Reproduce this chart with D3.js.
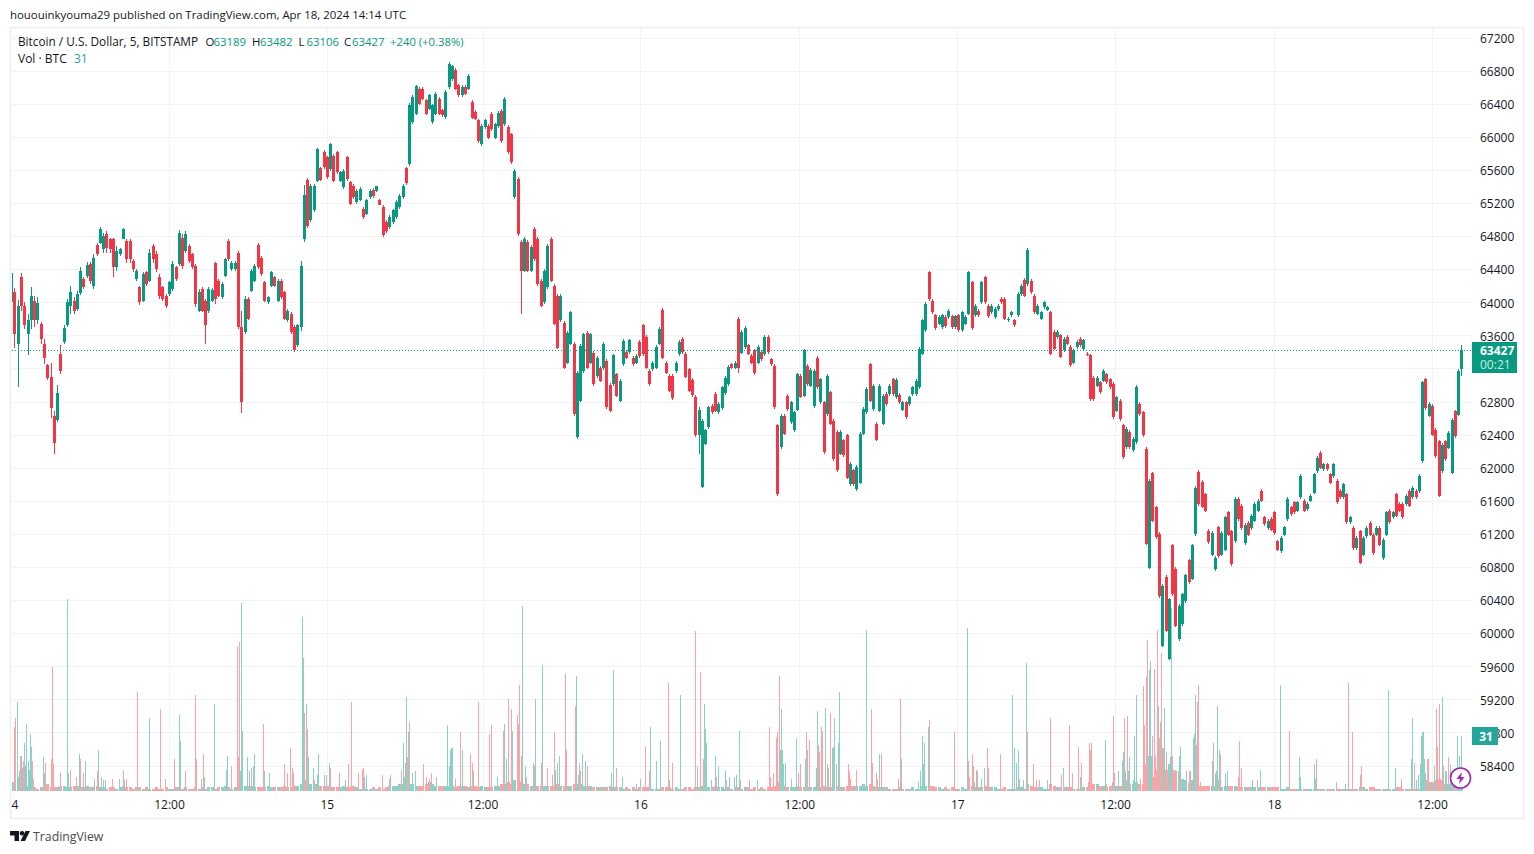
<!DOCTYPE html>
<html>
<head>
<meta charset="utf-8">
<title>BTCUSD 5m</title>
<script src="https://d3js.org/d3.v7.min.js"></script>
<style>
  html, body { margin: 0; padding: 0; background: #fff; }
  svg { display: block; }
  text { font-family: "Open Sans", Roboto, sans-serif; fill: #131722; }
</style>
</head>
<body>
<div id="chart"></div>
<script>
// prices, one reading per 15 minutes starting Apr 14 00:00 UTC
const opens = [
64000,64120,63500,64300,63950,63620,63780,64020,63790,63740,
63500,63240,63100,62620,62580,63380,63520,63720,63950,64020,
63920,64110,64280,64320,64460,64200,64690,64720,64640,64830,
64760,64760,64420,64580,64770,64740,64740,64500,64280,64180,
64020,64360,64260,64680,64580,64300,64180,64080,64100,64160,
64420,64460,64780,64620,64680,64580,64440,63900,64160,64020,
63900,64020,64470,64260,64060,64320,64740,64400,64400,64600,
63700,63640,64040,64140,64260,64690,64540,64240,64000,64200,
64300,64020,64260,64120,63780,63860,63700,63480,63700,64760,
65480,64990,65110,65470,65620,65820,65750,65610,65770,65810,
65470,65390,65750,65450,65410,65210,65240,65130,65070,65270,
65360,65340,65240,65150,64970,64910,64970,65030,65150,65270,
65620,65670,66180,66280,66580,66580,66440,66340,66180,66280,
66460,66320,66240,66600,66700,66810,66620,66500,66600,66580,
66420,66300,66200,65910,66120,66130,66280,65990,66130,66310,
66150,66120,66030,65270,65490,64730,64380,64730,64380,64890,
64770,64260,64000,64180,64770,64200,64080,63780,63750,63270,
63500,63500,62370,62810,63170,63630,63270,63390,63110,63210,
63200,63290,63000,63010,63130,62810,63250,63400,63400,63330,
63270,63520,63720,63580,63170,63190,63210,63500,63910,63270,
63110,63110,63170,63370,63560,63380,63190,63060,62860,62400,
61770,62290,62490,62750,62890,62670,62720,62900,63010,63250,
63210,63800,63390,63460,63480,63350,63420,63270,63400,63370,
63580,63310,63230,62510,62250,62630,62870,62550,62450,62700,
63110,62870,63230,62990,62740,63330,62790,62790,62650,62910,
62570,62430,62170,62330,62390,61800,61970,61740,61820,62410,
62670,63250,62710,62530,62690,62530,62890,62890,63070,62850,
62880,62700,62790,62770,62890,62890,62970,63380,63660,64360,
64020,63840,63740,63700,63820,63820,63830,63700,63840,63660,
63740,63860,64240,63840,63900,64000,64300,63960,63880,63820,
63920,64040,64040,63780,63840,63780,63840,64100,64270,64220,
64260,64080,63860,63800,63940,63910,63880,63640,63580,63600,
63420,63580,63460,63270,63460,63560,63440,63380,63360,63090,
62990,63030,63050,63130,63070,63010,62690,62810,62510,62250,
62430,62210,62310,62770,62670,62230,60790,61930,61520,61200,
59850,60680,59690,61060,60780,59930,60110,60390,60880,60660,
61200,61950,61830,61680,61240,60950,60770,61280,60950,61010,
61460,61230,61110,61620,61540,61090,61330,61270,61360,61480,
61720,61400,61270,61380,61460,61110,60990,61190,61380,61520,
61580,61480,61640,61600,61500,61600,61700,61960,62180,61980,
62040,61920,61900,61840,61720,61640,61680,61340,61270,61030,
61230,60950,61170,61330,61190,61190,61270,60910,61190,61480,
61400,61680,61560,61560,61560,61720,61640,61720,61720,62080,
63070,62630,62750,62460,62320,61960,62320,62240,61940,62680,
62640,63189];
const highs = [
64440,64170,64030,64350,64000,63860,64180,64070,64060,63760,
63560,63250,63270,62680,63000,63480,63730,64040,64200,64060,
64140,64420,64300,64490,64490,64580,64710,64910,64840,64860,
64780,64780,64680,64660,64900,64760,64760,64520,64400,64200,
64370,64380,64640,64700,64620,64340,64200,64100,64260,64500,
64440,64870,64820,64860,64700,64600,64460,64160,64180,64040,
64180,64170,64490,64280,64240,64540,64760,64500,64500,64620,
63900,64070,64060,64400,64460,64710,64560,64260,64080,64380,
64320,64280,64280,64140,63920,63880,63720,63740,64500,65420,
65500,65430,65430,65870,65640,65840,65770,65930,65790,65830,
65590,65610,65770,65470,65430,65370,65390,65150,65250,65370,
65380,65410,65250,65170,64990,65050,65130,65230,65310,65430,
65640,66410,66500,66630,66600,66600,66460,66520,66400,66540,
66480,66340,66560,66900,66870,66830,66640,66620,66620,66760,
66440,66320,66220,66150,66220,66150,66300,66170,66310,66330,
66480,66140,66050,65610,65510,64750,64790,64750,64690,64910,
64790,64280,64400,64700,64790,64220,64100,64100,63770,63650,
63900,63520,63170,63490,63630,63650,63630,63410,63350,63230,
63520,63310,63020,63380,63150,63070,63550,63420,63560,63350,
63370,63540,63740,63600,63190,63290,63480,63700,63930,63290,
63130,63130,63290,63540,63580,63400,63210,63080,62880,62730,
62590,62470,62750,62770,62910,62790,62990,63110,63240,63270,
63290,63820,63660,63710,63500,63370,63440,63480,63420,63600,
63600,63330,63250,62530,62650,62650,62890,62810,62690,63150,
63130,63440,63250,63200,63190,63350,63090,62810,63130,62930,
62590,62450,62450,62350,62410,62070,61990,62030,62430,62730,
62970,63270,63010,62550,63010,62890,62910,63010,63090,63080,
62900,62810,62810,62870,62990,63070,63460,63800,64000,64380,
64040,63860,63840,63860,63840,63920,63850,63850,63860,63900,
63840,64380,64260,63980,63920,64260,64320,63980,63980,63940,
63980,64060,64060,63820,63900,63800,64120,64220,64290,64650,
64280,64100,63980,63900,64020,63960,63900,63660,63660,63620,
63580,63600,63480,63440,63540,63580,63560,63400,63380,63110,
63110,63050,63190,63150,63090,63030,62870,62830,62530,62490,
62450,62370,63000,62790,62690,62250,61860,61950,61540,61220,
60590,60700,60430,61080,60800,60350,60490,60720,60900,61080,
61780,61970,61850,61700,61260,61230,60930,61300,61230,61420,
61480,61250,61640,61640,61560,61330,61350,61440,61580,61620,
61740,61420,61380,61400,61480,61130,61170,61300,61640,61540,
61600,61600,61920,61620,61580,61680,61940,62140,62200,62060,
62060,61940,62060,61860,61740,61820,61700,61420,61290,61170,
61250,61170,61290,61350,61210,61290,61290,61150,61480,61500,
61480,61700,61580,61580,61680,61740,61780,61740,61920,63050,
63090,62790,62770,62480,62340,62300,62340,62440,62600,62700,
63190,63482];
const lows = [
63880,63450,62980,63900,63680,63360,63680,63700,63740,63500,
63250,63060,62600,62170,62550,63130,63500,63700,63860,63860,
63900,64090,64160,64290,64220,64160,64560,64700,64600,64600,
64600,64300,64380,64560,64760,64480,64480,64360,64260,63970,
64000,64200,64240,64480,64360,64040,64020,63930,64080,64140,
64260,64440,64400,64600,64480,64400,63940,63880,63880,63500,
63870,64000,63980,64060,64040,64300,64500,64380,64380,63680,
62660,63620,63780,64120,64240,64400,64320,64000,63980,64180,
64180,64000,64040,63780,63760,63620,63400,63460,63650,64730,
64900,64970,65090,65450,65460,65610,65490,65590,65450,65550,
65450,65370,65470,65170,65250,65190,65220,65010,65050,65250,
65260,65330,65170,64790,64840,64890,64950,65010,65130,65250,
65420,65650,66160,66260,66380,66440,66260,66320,66160,66260,
66260,66240,66220,66580,66680,66560,66480,66480,66500,66560,
66210,66200,65930,65890,66100,65970,66070,65970,66110,65930,
66130,65790,65670,65250,64800,63860,64360,64360,64360,64500,
64200,63940,63980,64160,64240,63720,63430,63760,63190,63250,
63480,62630,62350,62790,63150,63190,63250,62990,63090,63030,
63180,62710,62670,62990,62850,62790,63230,63310,63380,63230,
63250,63330,63350,63190,62990,63170,63190,63480,63310,63130,
62910,62820,63150,63350,63380,63080,62910,62860,62370,62160,
61750,62270,62470,62650,62670,62650,62700,62880,62990,63190,
63190,63150,63370,63440,63360,63250,63120,63250,63290,63350,
63380,63230,62710,61660,62230,62390,62690,62530,62430,62680,
62840,62850,62990,62970,62720,62950,62770,62170,62630,62510,
62080,61950,62150,62130,61860,61780,61780,61720,61800,62390,
62650,62790,62690,62320,62670,62510,62750,62870,62870,62830,
62770,62680,62590,62750,62870,62870,62950,63360,63640,64020,
63860,63670,63720,63680,63690,63800,63680,63680,63640,63640,
63720,63840,63670,63820,63820,63980,63980,63810,63860,63800,
63900,63980,63780,63760,63820,63700,63820,64080,64060,64200,
64100,63860,63840,63780,63920,63890,63360,63420,63560,63320,
63400,63480,63220,63250,63440,63460,63420,63350,62810,62810,
62970,62890,63030,63010,62950,62590,62670,62570,62110,62230,
62230,62190,62290,62630,62370,61060,60770,61340,61140,60430,
59830,60010,59670,60450,60070,59910,60090,60370,60600,60640,
61180,61540,61510,61460,61080,60930,60750,60910,60930,60990,
61170,60810,61090,61360,61250,61070,61170,61250,61340,61460,
61580,61300,61250,61230,61190,60990,60970,61170,61360,61420,
61440,61460,61620,61460,61480,61580,61680,61940,61980,61960,
61960,61800,61880,61560,61620,61620,61320,61320,61010,61010,
60830,60930,61150,61170,60950,61170,61050,60890,61170,61320,
61380,61400,61460,61380,61540,61520,61620,61620,61700,62060,
62700,62610,62380,62120,61640,61940,62080,62220,61920,62360,
62620,63106];
const closes = [
64350,63620,63950,63950,63720,63780,64080,63780,63990,63560,
63320,63090,62720,62300,62900,63170,63690,64000,64120,63900,
64100,64380,64180,64450,64260,64540,64580,64880,64800,64660,
64640,64420,64620,64640,64880,64520,64520,64400,64380,64000,
64340,64220,64600,64520,64400,64080,64040,63960,64240,64460,
64280,64840,64440,64820,64500,64420,63980,64120,63900,63720,
64160,64150,64040,64080,64220,64520,64520,64480,64480,63700,
62800,64040,63800,64380,64440,64420,64340,64020,64060,64360,
64200,64260,64060,63800,63900,63640,63420,63720,64440,65300,
64920,65400,65400,65850,65480,65630,65510,65910,65470,65570,
65570,65590,65490,65190,65270,65350,65370,65030,65230,65350,
65280,65400,65180,64810,64860,65030,65110,65210,65290,65410,
65440,66390,66480,66610,66400,66460,66280,66500,66380,66520,
66280,66260,66540,66880,66850,66580,66500,66600,66520,66740,
66230,66220,65950,66130,66200,65990,66090,66150,66290,65950,
66460,65810,65690,65590,64820,64380,64770,64380,64670,64520,
64220,63960,64380,64680,64260,63740,63450,64080,63210,63630,
63880,62650,63150,63470,63610,63210,63610,63010,63330,63050,
63500,62730,62690,63360,62870,63050,63530,63330,63540,63250,
63350,63350,63370,63210,63010,63270,63460,63680,63330,63150,
62930,62840,63270,63520,63400,63100,62930,62880,62390,62700,
62570,62450,62730,62670,62690,62770,62970,63090,63220,63210,
63270,63200,63640,63690,63380,63270,63140,63460,63310,63580,
63400,63250,62730,61680,62630,62410,62710,62790,62670,63130,
62860,63420,63010,63180,63170,62970,63070,62190,63110,62530,
62100,61970,62430,62150,61880,62050,61800,62010,62410,62710,
62950,62810,62990,62340,62990,62870,62770,62990,62890,63060,
62790,62790,62610,62850,62970,63050,63440,63780,63980,64040,
63880,63690,63820,63840,63710,63900,63700,63830,63660,63880,
63820,64360,63690,63960,63840,64240,64000,63830,63960,63920,
63960,64000,63800,63800,63880,63720,64100,64200,64080,64630,
64120,63880,63960,63880,64000,63940,63380,63440,63640,63340,
63560,63500,63240,63420,63520,63480,63540,63360,62830,62830,
63090,62910,63170,63030,62970,62610,62850,62590,62130,62470,
62250,62350,62980,62650,62390,61080,61840,61360,61160,60450,
60570,60030,60410,60470,60090,60330,60470,60700,60620,61060,
61760,61560,61530,61480,61100,61210,60910,60930,61210,61400,
61190,60830,61620,61380,61270,61310,61190,61420,61560,61600,
61600,61320,61360,61250,61210,61010,61150,61280,61620,61440,
61460,61580,61900,61480,61560,61660,61920,62120,62000,62040,
61980,61820,62040,61580,61640,61800,61340,61400,61030,61150,
60850,61150,61270,61190,60970,61270,61070,61130,61460,61340,
61460,61420,61480,61400,61660,61540,61760,61640,61900,63030,
62720,62770,62400,62140,61660,62280,62100,62420,62580,62380,
63170,63427];

// quiet background volume in BTC at the same 15 minute steps
const baseVolume = [
5,4,6,5,3,3,2,2,1,2, 3,4,2,2,2,3,3,2,2,3, 3,2,2,3,2,2,3,2,2,1, 2,2,1,2,3,2,2,1,2,2,
1,2,1,1,2,1,1,2,1,1, 2,2,1,2,1,1,2,1,2,1, 2,2,1,2,2,3,2,1,2,3, 5,3,3,3,2,2,2,2,3,2,
2,2,2,3,2,2,3,3,4,6, 5,4,4,4,3,3,3,2,2,2, 2,3,2,2,3,2,1,2,1,1, 2,1,2,1,2,3,3,3,4,4,
4,4,4,3,3,3,4,5,4,3, 3,3,3,3,3,2,3,3,3,2, 3,3,2,3,2,2,2,3,3,4, 4,5,4,6,6,5,4,4,3,4,
3,3,3,3,3,3,4,3,3,3, 3,4,4,4,3,3,3,2,2,2, 2,2,3,2,2,2,1,2,1,2, 1,2,2,2,2,1,1,1,2,2,
2,1,2,1,1,2,2,1,2,2, 3,3,2,2,3,2,2,1,2,1, 2,2,1,2,2,1,2,1,2,1, 2,2,3,5,4,3,2,2,2,3,
2,2,2,2,2,1,2,3,2,2, 3,3,2,2,3,3,3,3,3,4, 3,4,3,2,2,2,2,1,1,1, 2,1,1,1,2,1,1,3,3,3,
3,2,2,1,2,1,2,1,1,2, 1,3,3,2,2,2,3,2,2,2, 1,1,2,1,1,1,2,2,1,4, 3,2,2,2,1,1,4,3,2,2,
2,2,2,1,1,1,2,2,5,4, 4,3,3,2,3,4,3,3,5,4, 4,4,5,4,4,7,9,8,9,12, 13,12,15,12,11,8,7,6,5,6,
5,3,3,3,3,3,3,2,2,3, 3,3,3,2,2,2,2,2,2,2, 2,2,2,2,2,2,1,1,2,1, 1,1,1,1,1,1,1,1,1,1,
1,1,1,1,1,1,1,1,1,1, 2,2,1,2,2,1,1,1,1,1, 1,2,2,1,1,1,1,1,1,3, 6,5,5,5,7,4,4,4,6,5,
6,2];

// volume spikes: 5 minute bar number since Apr 14 00:00, and BTC
const upBars = [2,5,6,7,9,12,13,14,15,16,17,18,20,29,30,51,52,62,67,76,79,84,86,98,103,126,153,154,173,176,185,196,197,209,210,211,215,217,221,222,231,235,265,266,269,271,275,279,280,285,290,305,322,324,345,357,358,359,360,362,366,368,388,398,399,400,401,402,411,421,443,450,451,
457,466,469,477,478,484,496,498,500,515,517,521,523,547,549,557,570,574,583,588,592,600,610,626,632,633,634,638,642,645,651,655,659,661,664,680,701,702,703,704,706,711,716,724,726,734,735,742,745,749,750,751,754,755,780,792,812,827,829,831,832,833,836,872,878,880,885,887,913,915,917,918,923,
926,945,959,975,998,1004,1010,1013,1014,1016,1017,1019,1020,1023,1024,1026,1027,1037,1038,1039,1040,1046,1050,1052,1055,1057,1058,1064,1065,1066,1072,1078,1079,1080,1095,1098,1099,1100,1102,1107,1109,1132,1139,1157,1175,1176,1188,1189,1217,1256,1262,1277,1278,1281,1283,1285,1286,1287,1288,1289,1290,1298,1299,1305,1308,1309,1312,1319,1321,1322];
const upVols = [5,50,8,11,20,27,14,38,17,12,32,25,7,19,10,108,10,21,17,7,23,6,6,7,6,41,43,28,7,8,49,12,20,11,106,34,19,11,14,21,11,10,98,75,49,19,13,9,21,9,16,6,8,9,7,27,8,16,53,33,10,11,8,37,14,23,24,24,23,11,8,38,18,
34,104,14,14,52,71,12,16,20,65,9,21,17,10,68,8,4,7,36,17,28,6,54,14,49,35,27,6,20,14,11,8,8,9,34,6,23,46,23,15,16,7,30,18,23,13,45,47,13,24,25,41,27,56,91,21,18,5,11,31,15,27,36,92,5,12,7,13,54,24,16,23,6,
72,6,13,8,29,5,11,17,22,11,6,11,19,6,31,54,4,20,68,73,20,48,24,47,12,19,103,11,20,25,11,30,32,54,17,10,11,48,23,10,11,6,12,60,19,8,15,7,4,57,13,18,41,6,9,15,31,33,33,18,10,14,6,53,11,11,15,31,20,31];
const downBars = [3,4,8,10,11,19,31,36,37,38,45,54,59,63,66,78,82,92,102,105,115,136,140,149,159,168,169,175,201,206,207,208,219,230,249,252,254,256,257,267,268,270,276,287,291,299,307,310,316,320,321,338,346,356,361,363,376,378,381,383,405,409,419,420,426,436,438,449,453,
456,461,462,463,465,470,476,483,489,493,495,505,506,514,518,519,525,552,578,582,599,603,624,628,631,643,652,665,673,691,692,695,698,699,700,718,720,725,728,736,737,739,740,744,747,752,763,764,765,771,784,785,789,790,793,809,811,837,860,873,874,876,877,881,890,891,902,919,
927,932,935,938,948,958,965,968,973,976,982,983,984,985,991,999,1005,1006,1015,1018,1030,1032,1033,1034,1035,1036,1041,1042,1043,1044,1045,1047,1048,1049,1051,1053,1056,1059,1062,1067,1074,1075,1081,1082,1083,1084,1092,1096,1101,1103,1119,1120,1122,1136,1166,1190,1208,1219,1223,1230,1231,1268,1280,1291,1292,1300,1301,1302,1304,1306,1311];
const downVols = [36,41,20,13,17,17,16,18,70,15,10,12,8,18,10,11,8,7,12,7,56,46,7,18,11,54,18,21,14,81,19,84,13,38,15,10,24,13,10,44,5,35,6,9,13,10,15,50,10,12,13,9,9,12,19,39,15,8,7,10,7,33,21,16,50,32,37,34,52,
46,43,38,60,20,8,16,16,13,9,33,66,23,48,16,11,14,13,25,11,61,16,90,67,18,8,6,6,6,36,8,10,30,33,65,10,15,33,29,26,22,36,34,15,44,15,15,11,7,12,46,16,10,7,21,7,52,40,33,17,8,21,14,11,24,13,21,7,
33,15,6,6,41,9,37,10,25,16,5,27,23,27,3,4,42,10,41,42,7,59,37,15,64,85,31,69,20,12,91,30,39,78,24,22,7,20,12,6,11,11,26,50,60,5,3,27,7,21,8,28,13,6,34,18,5,61,33,9,14,7,16,18,18,46,25,49,6,14,19];

const priceTicks = [58400,58800,59200,59600,60000,60400,60800,61200,61600,62000,62400,62800,63200,63600,64000,64400,64800,65200,65600,66000,66400,66800,67200];
// the feed has a few missing bars, so the labels are not evenly spaced in time
const timeTickBars = [0,144,288,430,574,719,863,1007,1152,1296];
const timeLabels = ["14","12:00","15","12:00","16","12:00","17","12:00","18","12:00"];

const lastPrice = 63427;
const lastVolume = 31;
const lastBar = 1322;

const upColor = "#089981", downColor = "#f23645";
const upVolColor = "#8dd0c6", downVolColor = "#f9a4a8";
const gridColor = "#f2f3f7", frameColor = "#eff1f6";

const start = new Date("2024-04-14T00:00Z");
const barTime = bar => new Date(+start + bar * 300000);
const candleBar = i => Math.min(i * 3, lastBar);

const width = 1534, height = 854;
const plotLeft = 12, plotRight = 1472, plotTop = 29, plotBottom = 792;

const x = d3.scaleUtc()
  .domain([start, barTime(1296)])
  .range([11.1, 1432]);
const y = d3.scaleLinear().domain([58400, 67200]).range([765.5, 37.5]);
const yVol = d3.scaleLinear().domain([0, 108]).range([791, 599.4]);

const svg = d3.select("#chart").append("svg")
  .attr("width", width)
  .attr("height", height);

const defs = svg.append("defs");
defs.append("clipPath").attr("id", "plotClip")
  .append("rect")
  .attr("x", plotLeft).attr("y", plotTop)
  .attr("width", plotRight - plotLeft).attr("height", plotBottom - plotTop);
defs.append("clipPath").attr("id", "timeClip")
  .append("rect")
  .attr("x", 10.8).attr("y", plotBottom)
  .attr("width", plotRight - 10).attr("height", 26);

// outer frame
svg.append("rect")
  .attr("x", 10.5).attr("y", 27.5)
  .attr("width", 1513).attr("height", 791)
  .attr("fill", "none")
  .attr("stroke", frameColor)
  .attr("stroke-width", 2);

// grid
const grid = svg.append("g").attr("clip-path", "url(#plotClip)").attr("shape-rendering", "crispEdges");
grid.selectAll(".h").data(priceTicks).join("line")
  .attr("x1", plotLeft).attr("x2", plotRight)
  .attr("y1", d => Math.round(y(d)) + 0.5).attr("y2", d => Math.round(y(d)) + 0.5)
  .attr("stroke", gridColor);
grid.selectAll(".v").data(timeTickBars).join("line")
  .attr("y1", plotTop).attr("y2", plotBottom)
  .attr("x1", d => Math.round(x(barTime(d))) + 0.5).attr("x2", d => Math.round(x(barTime(d))) + 0.5)
  .attr("stroke", gridColor);

// volume
const vol = svg.append("g").attr("clip-path", "url(#plotClip)").attr("shape-rendering", "crispEdges");
vol.selectAll(".base").data(baseVolume).join("rect")
  .attr("x", (d, i) => Math.round(x(barTime(candleBar(i)))) - 1)
  .attr("width", 3)
  .attr("y", d => yVol(d))
  .attr("height", d => yVol(0) - yVol(d))
  .attr("fill", (d, i) => closes[i] >= opens[i] ? upVolColor : downVolColor);
const spikes = (bars, vols, color) => vol.append("g").selectAll("rect").data(bars).join("rect")
  .attr("x", d => Math.round(x(barTime(d))))
  .attr("width", 1)
  .attr("y", (d, i) => yVol(vols[i]))
  .attr("height", (d, i) => yVol(0) - yVol(vols[i]))
  .attr("fill", color);
spikes(downBars, downVols, downVolColor);
spikes(upBars, upVols, upVolColor);

// candles
const candles = svg.append("g").attr("clip-path", "url(#plotClip)").attr("shape-rendering", "crispEdges");
const candleColor = i => closes[i] >= opens[i] ? upColor : downColor;
candles.selectAll(".wick").data(opens).join("rect")
  .attr("x", (d, i) => Math.round(x(barTime(candleBar(i)))))
  .attr("width", 1)
  .attr("y", (d, i) => y(highs[i]))
  .attr("height", (d, i) => y(lows[i]) - y(highs[i]))
  .attr("fill", (d, i) => candleColor(i));
candles.selectAll(".body").data(opens).join("rect")
  .attr("x", (d, i) => Math.round(x(barTime(candleBar(i)))) - 1)
  .attr("width", 3)
  .attr("y", (d, i) => y(Math.max(d, closes[i])))
  .attr("height", (d, i) => Math.max(1, Math.abs(y(d) - y(closes[i]))))
  .attr("fill", (d, i) => candleColor(i));

// last price dotted line
svg.append("line")
  .attr("x1", plotLeft).attr("x2", plotRight)
  .attr("y1", Math.round(y(lastPrice)) + 0.5).attr("y2", Math.round(y(lastPrice)) + 0.5)
  .attr("stroke", upColor)
  .attr("stroke-dasharray", "1 2");

// price axis, 63200 sits under the last price tag
const priceAxis = svg.append("g")
  .attr("transform", `translate(${plotRight},0)`)
  .call(d3.axisRight(y).tickValues(priceTicks.filter(d => d !== 63200)).tickSize(0).tickPadding(8).tickFormat(d3.format("d")));
priceAxis.select(".domain").remove();
priceAxis.selectAll("text")
  .attr("dy", "0.4em")
  .style("font-family", '"Open Sans", Roboto, sans-serif').style("font-size", "12px").attr("fill", "#131722");

// time axis
const timeAxis = svg.append("g")
  .attr("clip-path", "url(#timeClip)")
  .append("g")
  .attr("transform", `translate(0,${plotBottom})`)
  .call(d3.axisBottom(x)
    .tickValues(timeTickBars.map(barTime))
    .tickSize(0).tickPadding(8.5)
    .tickFormat((d, i) => timeLabels[i]));
timeAxis.select(".domain").remove();
timeAxis.selectAll("text").style("font-family", '"Open Sans", Roboto, sans-serif').style("font-size", "12px").attr("fill", "#131722");

// price and volume tags
svg.append("rect").attr("x", 1472).attr("y", 342).attr("width", 45).attr("height", 31).attr("fill", upColor);
svg.append("text").attr("x", 1480).attr("y", 355).attr("font-size", 12).attr("font-weight", 700)
  .style("fill", "#fff").text(lastPrice);
svg.append("text").attr("x", 1480).attr("y", 369).attr("font-size", 12)
  .style("fill", "#cfeae5").text("00:21");
svg.append("rect").attr("x", 1472).attr("y", 727).attr("width", 26).attr("height", 18).attr("fill", "#26a69a");
svg.append("text").attr("x", 1486).attr("y", 741).attr("font-size", 12).attr("font-weight", 700)
  .attr("text-anchor", "middle").style("fill", "#fff").text(lastVolume);

// header and legend
svg.append("text").attr("x", 10).attr("y", 19).attr("font-size", 11.42)
  .text("hououinkyouma29 published on TradingView.com, Apr 18, 2024 14:14 UTC");
svg.append("text").attr("x", 18).attr("y", 46).attr("font-size", 11.8)
  .text("Bitcoin / U.S. Dollar, 5, BITSTAMP");
const legendKeys = ["O", "H", "L", "C"];
const legendVals = ["63189", "63482", "63106", "63427"];
const legendKeyX = [205.5, 252, 298.5, 344];
legendKeys.forEach((k, i) => {
  svg.append("text").attr("x", legendKeyX[i]).attr("y", 46).attr("font-size", 11.4).text(k);
  svg.append("text").attr("x", legendKeyX[i] + 8).attr("y", 46).attr("font-size", 11.4)
    .style("fill", upColor).text(legendVals[i]);
});
svg.append("text").attr("x", 390).attr("y", 46).attr("font-size", 11.3)
  .style("fill", upColor).text("+240 (+0.38%)");
svg.append("text").attr("x", 18).attr("y", 63).attr("font-size", 12).text("Vol · BTC");
svg.append("text").attr("x", 74).attr("y", 63).attr("font-size", 12)
  .style("fill", "#26a69a").text(lastVolume);

// lightning badge
const badge = svg.append("g").attr("transform", "translate(1460.5,778)");
badge.append("circle").attr("r", 10).attr("fill", "#fff").attr("stroke", "#9c27b0").attr("stroke-width", 1.6);
badge.append("path").attr("d", "M1.5,-6 L-4,1 L-0.5,1 L-1.5,6 L4,-1 L0.5,-1 Z").attr("fill", "#9c27b0");

// logo
const logo = svg.append("g").attr("transform", "translate(10,831)").attr("fill", "#131722");
logo.append("path").attr("d", "M0,0 H9 V10 H4.5 V4.5 H0 Z");
logo.append("circle").attr("cx", 12).attr("cy", 2.3).attr("r", 2.3);
logo.append("path").attr("d", "M15.5,0 H20 L15,10 H10.5 Z");
svg.append("text").attr("x", 33).attr("y", 841).attr("font-size", 12.3).style("fill", "#4a4a4a").text("TradingView");
</script>
</body>
</html>
